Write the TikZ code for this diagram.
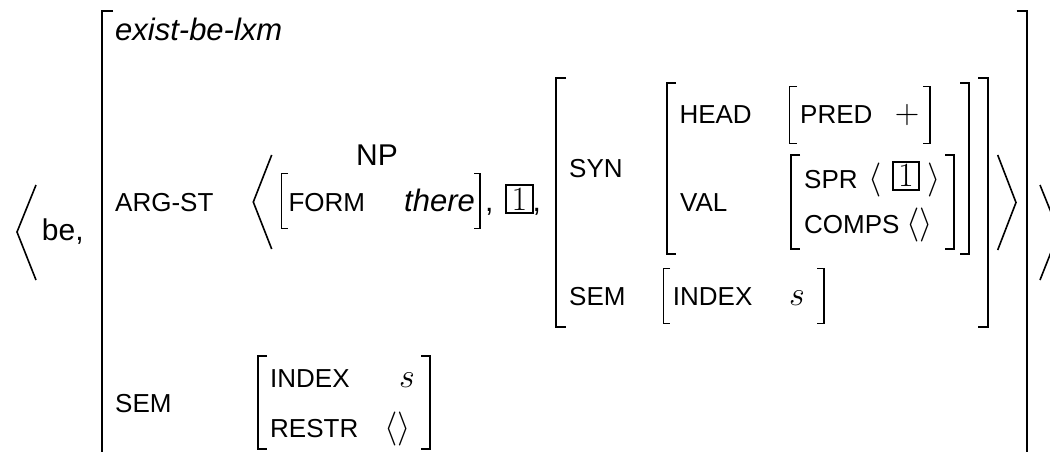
\RequirePackage{fix-cm}
\documentclass[tikz,border=0pt]{standalone}
\usepackage{fontspec}
\setmainfont{Liberation Sans}
\newcommand\valsize{\fontsize{30}{36}\selectfont}
\newcommand\itsize{\fontsize{31}{37}\selectfont}
\newcommand\lblsize{\fontsize{26}{31}\selectfont}
\newcommand\mathsz{\fontsize{34}{41}\selectfont}
\tikzset{
  lbl/.style={anchor=base west, inner sep=0pt, font=\lblsize},
  val/.style={anchor=base west, inner sep=0pt, font=\valsize},
  valit/.style={anchor=base west, inner sep=0pt, font=\itsize\itshape},
  mth/.style={anchor=base west, inner sep=0pt, font=\mathsz},
  tagbox/.style={draw, line width=1.9pt, inner sep=0pt, minimum width=26.7pt,
                 minimum height=28.3pt, font=\mathsz},
  angl/.style={line width=1.6pt, line join=miter},
  brkbig/.style={line width=2.6pt, line join=miter},
  brkmid/.style={line width=2.3pt, line join=miter},
  brksml/.style={line width=2pt, line join=miter},
  brkthin/.style={line width=1.5pt, line join=miter},
}
\begin{document}
\begin{tikzpicture}[x=1pt,y=-1pt]
\useasboundingbox (0,0) rectangle (1050,451);
\clip (0,0) rectangle (1050,451);

% outer angle brackets of the lexical entry
\coordinate (oL1) at (36,185); \coordinate (oL2) at (17,232); \coordinate (oL3) at (36,280);
\coordinate (oR1) at (1040,185); \coordinate (oR2) at (1059,232); \coordinate (oR3) at (1040,280);
\draw[angl] (oL1) -- (oL2) -- (oL3);
\draw[angl] (oR1) -- (oR2) -- (oR3);
\node[val] (be) at (41.7,240) {be,};

% outermost feature structure brackets
\draw[brkbig] (113,11) -- (102,11) -- (102,470);
\draw[brkbig] (1016.5,11) -- (1027,11) -- (1027,470);
\node[valit] (type) at (115,40.7) {exist-be-lxm};

% ARG-ST
\node[lbl] (argst) at (115,211) {ARG-ST};
\coordinate (aL1) at (271.7,155); \coordinate (aL2) at (253.3,202); \coordinate (aL3) at (271.7,249);
\coordinate (aR1) at (997.7,155); \coordinate (aR2) at (1016,202.5); \coordinate (aR3) at (997.7,250);
\draw[angl] (aL1) -- (aL2) -- (aL3);
\draw[angl] (aR1) -- (aR2) -- (aR3);

% first argument: NP [FORM there]
\draw[brkthin] (288,173.3) -- (281.7,173.3) -- (281.7,228.3) -- (288,228.3);
\draw[brkthin] (474,173.3) -- (480,173.3) -- (480,228.3) -- (474,228.3);
\node[val, anchor=base] (np) at (377,165) {NP};
\node[lbl] (form) at (288.3,211.7) {FORM};
\node[valit] (there) at (404,211) {there};
\node[val] (c1) at (485,211) {,};
\node[tagbox] (tag1) at (519.3,199.2) {$1$};
\node[val] (c2) at (532.5,211) {,};

% second argument: SYN / SEM
\draw[brkmid] (566,78.3) -- (555.7,78.3) -- (555.7,326.7) -- (566,326.7);
\draw[brkmid] (978,78.3) -- (988.3,78.3) -- (988.3,326.7) -- (978,326.7);
\node[lbl] (syn) at (569,177) {SYN};
\draw[brksml] (676,83.3) -- (666.7,83.3) -- (666.7,254.3) -- (676,254.3);
\draw[brksml] (960,83.3) -- (969.3,83.3) -- (969.3,254.3) -- (960,254.3);
\node[lbl] (head) at (679.3,123) {HEAD};
\draw[brkthin] (797,86.7) -- (789.3,86.7) -- (789.3,143.3) -- (797,143.3);
\draw[brkthin] (923,86.7) -- (930,86.7) -- (930,143.3) -- (923,143.3);
\node[lbl] (pred) at (800,123) {PRED};
\node[mth, anchor=base] (plus) at (907,123) {$+$};
\node[lbl] (valf) at (680,211) {VAL};
\draw[brksml] (800,155) -- (791,155) -- (791,249.3) -- (800,249.3);
\draw[brksml] (945,155) -- (954,155) -- (954,249.3) -- (945,249.3);
\node[lbl] (spr) at (804,188) {SPR};
\node[mth] (sprl) at (868.5,188) {$\langle$};
\node[tagbox] (tag2) at (906,175.8) {$1$};
\node[mth] (sprr) at (927,188) {$\rangle$};
\node[lbl] (comps) at (804,233.5) {COMPS};
\node[mth] (compsv) at (906.5,233.5) {$\langle\rangle$};
\node[lbl] (sem2) at (569,305) {SEM};
\draw[brkthin] (670,268.3) -- (663.3,268.3) -- (663.3,323.3) -- (670,323.3);
\draw[brkthin] (817,268.3) -- (824,268.3) -- (824,323.3) -- (817,323.3);
\node[lbl] (index2) at (672.7,305) {INDEX};
\node[mth] (s2) at (789,305) {$s$};

% SEM of the entry
\node[lbl] (sem1) at (115,412) {SEM};
\draw[brksml] (267,356) -- (258.3,356) -- (258.3,449) -- (267,449);
\draw[brksml] (421,356) -- (430,356) -- (430,449) -- (421,449);
\node[lbl] (index1) at (270,387) {INDEX};
\node[mth] (s1) at (399,387) {$s$};
\node[lbl] (restr) at (270,437) {RESTR};
\node[mth] (restrv) at (384,437) {$\langle\rangle$};
\end{tikzpicture}
\end{document}
